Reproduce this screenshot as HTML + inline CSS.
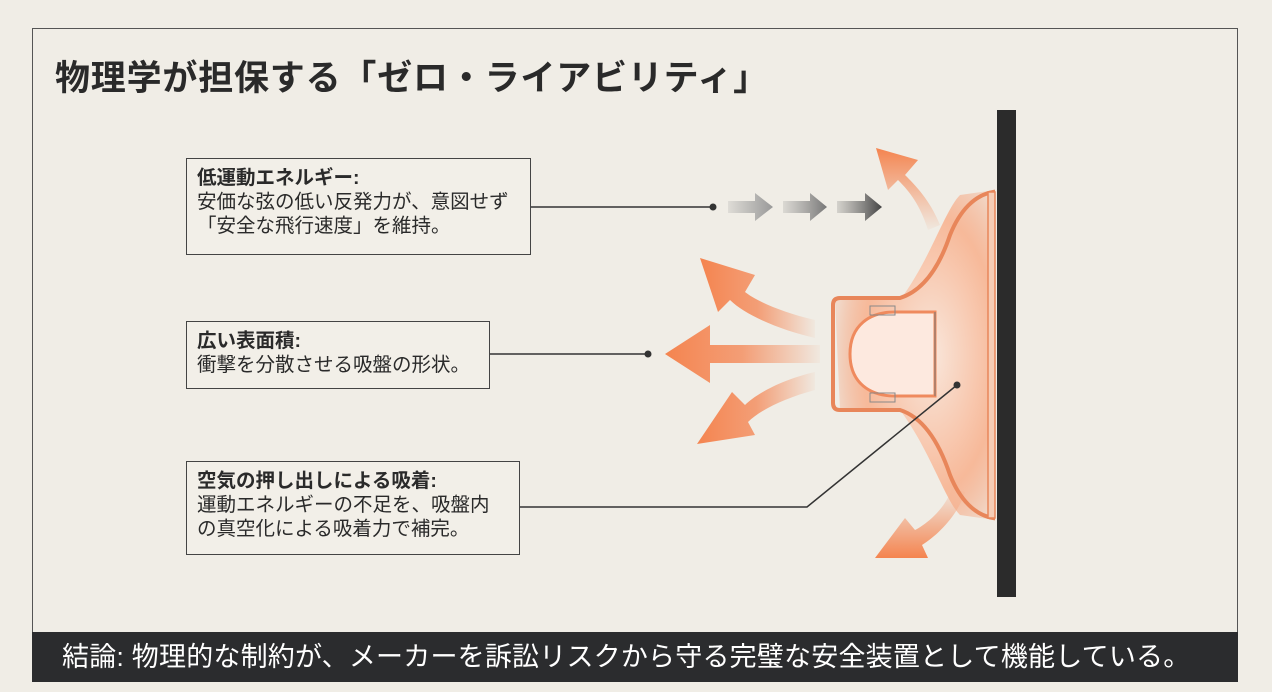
<!DOCTYPE html>
<html><head><meta charset="utf-8"><style>
body{margin:0;width:1272px;height:692px;background:#f0ede6;overflow:hidden;position:relative;font-family:"Liberation Sans","Noto Sans CJK JP",sans-serif;color:#2a2a2a}
.frame{position:absolute;left:32px;top:28px;width:1206px;height:652px;border:1.5px solid #555;box-sizing:border-box}
h1{position:absolute;left:55px;top:50px;margin:0;font-size:35px;font-weight:bold;letter-spacing:0.8px;color:#2a2a2a;white-space:nowrap}
.box{position:absolute;border:1.5px solid #444;background:#f2efe8;font-size:19.5px;line-height:24px;padding:7px 10px;box-sizing:border-box;white-space:nowrap}
.box b{display:block}
.bar{position:absolute;left:32px;top:632px;width:1206px;height:50px;background:#2b2c2e;color:#fff;font-size:27px;line-height:50px;padding-left:30px;box-sizing:border-box;white-space:nowrap;letter-spacing:0.2px}
svg{position:absolute;left:0;top:0}
</style></head><body>
<div class="frame"></div>
<h1>物理学が担保する「ゼロ・ライアビリティ」</h1>
<svg width="1272" height="692">
<defs>
<linearGradient id="gl" x1="1" x2="0" y1="0" y2="0"><stop offset="0" stop-color="#f48a5a" stop-opacity="0.05"/><stop offset="0.5" stop-color="#f48a5a" stop-opacity="0.8"/><stop offset="1" stop-color="#f4844f"/></linearGradient>
<linearGradient id="gu" x1="0" x2="0" y1="1" y2="0"><stop offset="0" stop-color="#f48a5a" stop-opacity="0.05"/><stop offset="1" stop-color="#f4844f"/></linearGradient>
<linearGradient id="gd" x1="0" x2="0" y1="0" y2="1"><stop offset="0" stop-color="#f48a5a" stop-opacity="0.05"/><stop offset="1" stop-color="#f4844f"/></linearGradient>
<radialGradient id="glow" cx="0.6" cy="0.5" r="0.6"><stop offset="0" stop-color="#fbe6da"/><stop offset="0.7" stop-color="#f8b08c"/><stop offset="1" stop-color="#f59a70" stop-opacity="0.3"/></radialGradient>
<linearGradient id="ga" x1="0" x2="1"><stop offset="0" stop-color="#999" stop-opacity="0.2"/><stop offset="1" stop-color="#999"/></linearGradient>
<linearGradient id="gb" x1="0" x2="1"><stop offset="0" stop-color="#888" stop-opacity="0.2"/><stop offset="1" stop-color="#777"/></linearGradient>
<linearGradient id="gc" x1="0" x2="1"><stop offset="0" stop-color="#666" stop-opacity="0.2"/><stop offset="1" stop-color="#444"/></linearGradient>
</defs>
<rect x="997" y="110" width="19" height="487" fill="#2b2b2b"/>
<path d="M940,225 C930,200 915,185 905,175 L918,160 L876,148 L888,190 L898,180 C910,192 920,205 928,230 Z" fill="url(#gu)"/>
<path d="M815,320 C780,312 755,300 745,292 L755,275 L700,258 L718,312 L730,300 C745,315 780,330 815,338 Z" fill="url(#gl)"/>
<path d="M820,345 L710,345 L710,325 L665,354 L710,383 L710,363 L820,363 Z" fill="url(#gl)"/>
<path d="M815,372 C780,380 755,395 745,405 L732,392 L697,444 L755,435 L748,422 C760,410 785,398 815,390 Z" fill="url(#gl)"/>
<path d="M952,488 C945,510 925,525 915,530 L905,518 L875,558 L928,558 L922,545 C938,535 958,515 965,492 Z" fill="url(#gd)"/>
<path d="M728,201 L755,201 L755,193 L773,207 L755,221 L755,213 L728,213 Z" fill="url(#ga)"/>
<path d="M783,201 L810,201 L810,193 L827,207 L810,221 L810,213 L783,213 Z" fill="url(#gb)"/>
<path d="M837,201 L865,201 L865,193 L882,207 L865,221 L865,213 L837,213 Z" fill="url(#gc)"/>
<path d="M960,195 L995,190 L995,520 L960,515 C945,500 930,450 900,410 L840,410 L835,300 L900,300 C930,260 945,210 960,195 Z" fill="url(#glow)" opacity="0.85"/>
<path d="M993,192 C975,195 960,210 950,235 C940,265 925,290 900,298 L840,298 Q833,298 833,305 L833,403 Q833,410 840,410 L900,410 C925,418 940,445 950,475 C960,500 975,515 993,518 Z" fill="none" stroke="#e8865a" stroke-width="4"/>
<path d="M895,312 C870,312 850,325 850,354 C850,383 870,396 895,396 L935,396 L935,312 Z" fill="#fde9df" stroke="#ef8a5e" stroke-width="3"/>
<rect x="870" y="306" width="25" height="9" fill="none" stroke="#888" stroke-width="1"/>
<rect x="870" y="393" width="25" height="9" fill="none" stroke="#888" stroke-width="1"/>
<line x1="935" y1="312" x2="935" y2="396" stroke="#777" stroke-width="1"/>
<rect x="988" y="192" width="7" height="326" fill="#f6cdb6" stroke="#e8865a" stroke-width="1.5"/>
<line x1="530" y1="207" x2="713" y2="207" stroke="#333" stroke-width="1.5"/><circle cx="713" cy="207" r="3.5" fill="#333"/>
<line x1="489" y1="354" x2="648" y2="354" stroke="#333" stroke-width="1.5"/><circle cx="648" cy="354" r="3.5" fill="#333"/>
<polyline points="519,507 807,507 957,385" fill="none" stroke="#333" stroke-width="1.5"/><circle cx="957" cy="385" r="3.5" fill="#333"/>
</svg>
<div class="box" style="left:186px;top:158px;width:345px;height:97px"><b>低運動エネルギー:</b>安価な弦の低い反発力が、意図せず<br>「安全な飛行速度」を維持。</div>
<div class="box" style="left:186px;top:321px;width:304px;height:68px"><b>広い表面積:</b>衝撃を分散させる吸盤の形状。</div>
<div class="box" style="left:186px;top:461px;width:334px;height:94px"><b>空気の押し出しによる吸着:</b>運動エネルギーの不足を、吸盤内<br>の真空化による吸着力で補完。</div>
<div class="bar">結論: 物理的な制約が、メーカーを訴訟リスクから守る完璧な安全装置として機能している。</div>
</body></html>
